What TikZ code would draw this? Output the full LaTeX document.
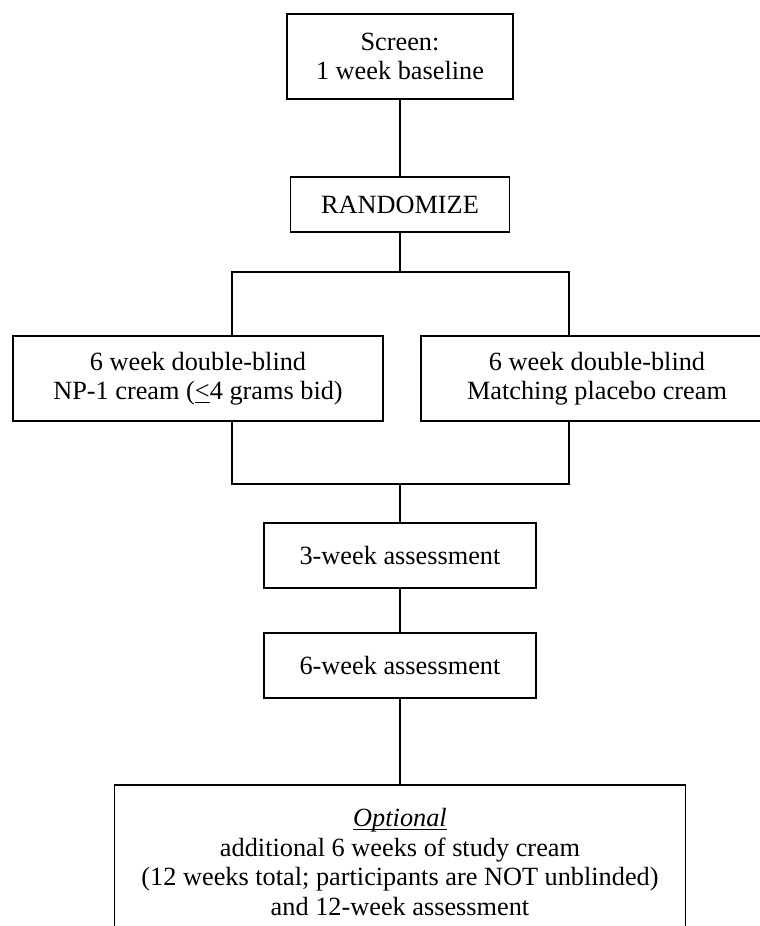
\documentclass[tikz,border=0pt]{standalone}
\usepackage{fontspec}
\setmainfont{Liberation Serif}
\usepackage{tikz}
\tikzset{stagebox/.style={shape=rectangle,draw=black,line width=0.75pt,fill=white,inner sep=0pt,align=center}}

\begin{document}
\begin{tikzpicture}[x=0.5pt,y=-0.5pt,line width=0.75pt,font=\fontsize{13.15}{14.7}\selectfont]

\useasboundingbox (0,0) rectangle (760,926);
\clip (0,0) rectangle (760,926);

\path (400,56.5) node [stagebox,minimum width=113pt,minimum height=42.5pt] (screen) {Screen:\\1 week baseline};

\path (400,204.5) node [stagebox,minimum width=109.5pt,minimum height=27.5pt] (randomize) {RANDOMIZE};

\path (198,378.5) node [stagebox,minimum width=185pt,minimum height=42.5pt] (npone) {6 week double-blind\\NP-1 cream (\underline{<}4 grams bid)};

\path (597,378.5) node [stagebox,minimum width=176pt,minimum height=42.5pt] (placebo) {6 week double-blind\\Matching placebo cream};

\path (400,555.5) node [stagebox,minimum width=136pt,minimum height=32.5pt] (wkthree) {3-week assessment};

\path (400,665.5) node [stagebox,minimum width=136pt,minimum height=32.5pt] (wksix) {6-week assessment};

\path (400,862) node [stagebox,minimum width=285.5pt,minimum height=77pt] (optional) {\underline{\raisebox{0pt}[\height][0pt]{\textit{Optional}}}\\additional 6 weeks of study cream\\(12 weeks total; participants are NOT unblinded)\\and 12-week assessment};

% fork after randomisation
\coordinate (splitL) at (232,272);
\coordinate (splitR) at (569,272);
% join before assessments
\coordinate (joinL) at (232,484);
\coordinate (joinR) at (569,484);

\draw (screen.south) -- (randomize.north);
\draw (randomize.south) -- (randomize.south |- splitL);
\draw (splitL |- npone.north) -- (splitL) -- (splitR) -- (splitR |- placebo.north);
\draw (joinL |- npone.south) -- (joinL) -- (joinR) -- (joinR |- placebo.south);
\draw (wkthree.north |- joinL) -- (wkthree.north);
\draw (wkthree.south) -- (wksix.north);
\draw (wksix.south) -- (optional.north);

\end{tikzpicture}
\end{document}
